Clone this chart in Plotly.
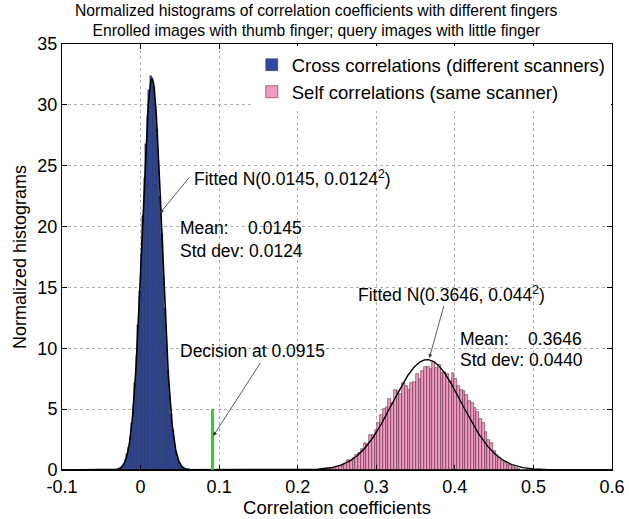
import numpy as np
import plotly.graph_objects as go

# ---- data ----
blue_start, blue_width = -0.031, 0.002
blue_heights = [0.04, 0.07, 0.12, 0.20, 0.33, 0.53, 0.84, 1.28, 1.90, 2.75,
                3.88, 5.34, 7.16, 9.34, 11.9, 14.7, 17.8, 20.9, 24.0, 26.8,
                29.2, 31.2, 32.4, 32.0, 31.5, 30.1, 28.0, 25.4, 22.5, 19.4,
                16.2, 13.3, 10.6, 8.2, 6.2, 4.6, 3.3, 2.3, 1.56, 1.04,
                0.67, 0.42, 0.26, 0.16, 0.09, 0.05, 0.03]
pink_start, pink_width = 0.2225, 0.0035
pink_heights = [0.04, 0.03, 0.06, 0.08, 0.05, 0.11, 0.14, 0.18, 0.22, 0.30,
                0.38, 0.52, 0.80, 0.72, 0.95, 1.25, 1.40, 1.75, 2.25, 2.10,
                2.90, 2.85, 3.30, 3.90, 4.55, 5.05, 5.15, 5.80, 5.50, 6.60,
                6.50, 6.25, 7.15, 6.90, 6.60, 7.15, 7.20, 7.85, 7.50, 8.10,
                8.50, 8.45, 8.30, 8.90, 8.40, 8.60, 7.95, 8.05, 7.85, 7.30,
                7.95, 7.45, 6.90, 6.60, 6.50, 6.20, 5.65, 5.50, 5.10, 4.75,
                4.20, 3.85, 3.15, 2.45, 2.20, 1.55, 1.25, 1.00, 0.72, 0.58,
                0.38, 0.45, 0.25, 0.16, 0.08]
cross_mean, cross_std = 0.0145, 0.0124
self_mean, self_std = 0.3646, 0.0440
decision = 0.0915
decision_height = 5
x_ticks = [-0.1, 0, 0.1, 0.2, 0.3, 0.4, 0.5, 0.6]
y_ticks = [0, 5, 10, 15, 20, 25, 30, 35]
title_lines = ["Normalized histograms of correlation coefficients with different fingers",
               "Enrolled images with thumb finger; query images with little finger"]

blue_x = [blue_start + i * blue_width for i in range(len(blue_heights))]
pink_x = [pink_start + i * pink_width for i in range(len(pink_heights))]

def npdf(x, m, s):
    return np.exp(-0.5 * ((x - m) / s) ** 2) / (s * np.sqrt(2 * np.pi))

fx = np.linspace(-0.1, 0.6, 1400)

FONT = "Liberation Sans, Arial, sans-serif"
fig = go.Figure()
fig.add_trace(go.Bar(x=blue_x, y=blue_heights, width=blue_width,
                     marker=dict(color="#30499C", line=dict(color="#15204a", width=0.4)),
                     name="Cross correlations (different scanners)"))
fig.add_trace(go.Bar(x=pink_x, y=pink_heights, width=pink_width,
                     marker=dict(color="#F29AC3", line=dict(color="#5a3040", width=0.6)),
                     name="Self correlations (same scanner)"))
fig.add_trace(go.Scatter(x=fx, y=npdf(fx, cross_mean, cross_std), mode="lines",
                         line=dict(color="black", width=1.6), showlegend=False))
fig.add_trace(go.Scatter(x=fx, y=npdf(fx, self_mean, self_std), mode="lines",
                         line=dict(color="black", width=1.4), showlegend=False))
fig.add_trace(go.Scatter(x=[decision, decision], y=[0, decision_height], mode="lines",
                         line=dict(color="#33CC33", width=3), showlegend=False))

AFS = 17.5
def txt(x, y, s):
    fig.add_annotation(x=x, y=y, text=s, showarrow=False, xanchor="left",
                       yanchor="middle", font=dict(size=AFS, color="black", family=FONT))

def arrow(x, y, tx, ty):
    fig.add_annotation(x=x, y=y, ax=tx, ay=ty, axref="x", ayref="y", text="",
                       showarrow=True, arrowhead=2, arrowsize=1, arrowwidth=0.8,
                       arrowcolor="#333333")

txt(0.065, 24.0, "Fitted N(0.0145, 0.0124<sup>2</sup>)")
arrow(0.0248, 21.1, 0.064, 24.2)
txt(0.047, 19.9, "Mean:    0.0145")
txt(0.047, 18.0, "Std dev: 0.0124")
txt(0.047, 9.8, "Decision at 0.0915")
arrow(0.0925, 2.8, 0.1535, 8.9)
txt(0.274, 14.5, "Fitted N(0.3646, 0.044<sup>2</sup>)")
arrow(0.3675, 9.2, 0.3865, 13.6)
txt(0.4035, 10.8, "Mean:    0.3646")
txt(0.4035, 9.0, "Std dev: 0.0440")

# two-line title above the axes
fig.add_annotation(xref="paper", yref="paper", x=0.462, y=1.056, xanchor="center",
                   yanchor="middle", showarrow=False, text="<br>".join(title_lines),
                   font=dict(size=15.7, family=FONT, color="black"))

axis_common = dict(showline=True, linecolor="black", linewidth=1, mirror="ticks",
                   ticks="inside", ticklen=5, tickcolor="black", automargin=False,
                   showgrid=True, gridcolor="#b0b0b0", griddash="dot", gridwidth=1,
                   zeroline=False, tickfont=dict(size=18, color="black", family=FONT))
fig.update_xaxes(range=[-0.1, 0.6], tickvals=x_ticks,
                 ticktext=[("%g" % v) for v in x_ticks],
                 title=dict(text="Correlation coefficients", font=dict(size=18.5, family=FONT, color="black"),
                            standoff=2), **axis_common)
fig.update_yaxes(range=[0, 35], tickvals=y_ticks,
                 title=dict(text="Normalized histograms", font=dict(size=18, family=FONT, color="black"),
                            standoff=6), **axis_common)

fig.update_layout(
    width=629, height=519, autosize=False,
    margin=dict(l=62, r=17, t=44, b=49, autoexpand=False),
    paper_bgcolor="white", plot_bgcolor="white",
    barmode="overlay", bargap=0,
    font=dict(family=FONT, color="black"),
    legend=dict(x=0.345, y=0.995, xanchor="left", yanchor="top",
                bgcolor="white", borderwidth=0, font=dict(size=18.5, family=FONT, color="black"),
                itemwidth=30, tracegroupgap=0),
)
fig.write_html("out.html", post_script="document.body.style.margin='0px';",
               config={"displayModeBar": False})
